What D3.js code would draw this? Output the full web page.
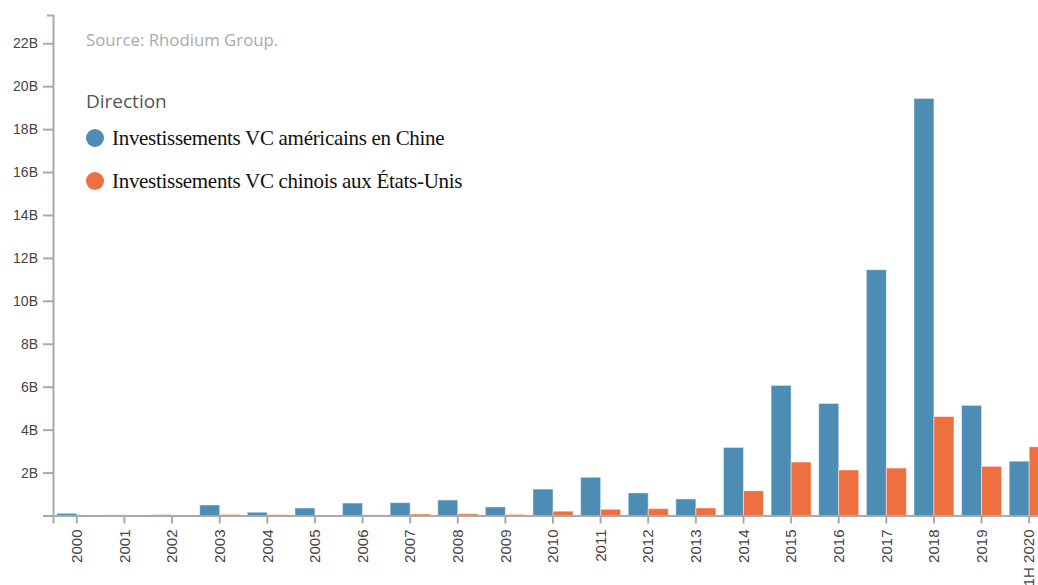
<!DOCTYPE html>
<html>
<head>
<meta charset="utf-8">
<script src="https://cdn.jsdelivr.net/npm/d3@7"></script>
<style>
  body { margin: 0; background: #fff; }
  svg { display: block; }
</style>
</head>
<body>
<div id="chart"></div>
<script>
var w = 1038,
    h = 585;

// years on the x axis
var years = ['2000', '2001', '2002', '2003', '2004', '2005', '2006', '2007', '2008', '2009',
             '2010', '2011', '2012', '2013', '2014', '2015', '2016', '2017', '2018', '2019', '1H 2020'];

// billions of dollars
var usToChina = [0.10, 0.03, 0.04, 0.49, 0.15, 0.35, 0.58, 0.60, 0.72, 0.40,
                 1.23, 1.78, 1.05, 0.77, 3.17, 6.06, 5.22, 11.45, 19.43, 5.13, 2.53];
var chinaToUs = [0.02, 0.01, 0.01, 0.05, 0.04, 0.00, 0.03, 0.07, 0.08, 0.05,
                 0.20, 0.29, 0.32, 0.35, 1.15, 2.49, 2.12, 2.21, 4.61, 2.29, 3.20];

var seriesNames = ['Investissements VC américains en Chine', 'Investissements VC chinois aux États-Unis'];
var seriesColors = ['#4e8db3', '#ee6f3f'];
var yTicks = [0, 2, 4, 6, 8, 10, 12, 14, 16, 18, 20, 22];

var rows = years.map(function(y, i) {
  return {year: y, values: [usToChina[i], chinaToUs[i]]};
});

var vis = d3.select('#chart')
            .append('svg')
            .attr('width', w)
            .attr('height', h);

var x = d3.scaleBand()
    .domain(years)
    .range([53, 1053])
    .paddingInner(0.16)
    .paddingOuter(0.08);

var x1 = d3.scaleBand()
    .domain([0, 1])
    .range([0, x.bandwidth()]);

var y = d3.scaleLinear()
    .domain([0, d3.max(usToChina) * 1.2])
    .range([515.5, 15]);

// bars
var groups = vis.selectAll('.group')
    .data(rows)
    .enter()
    .append('g')
    .attr('class', 'group')
    .attr('transform', function(d) { return 'translate(' + x(d.year) + ',0)'; });

groups.selectAll('rect')
    .data(function(d) { return d.values; })
    .enter()
    .append('rect')
    .attr('x', function(d, i) { return x1(i); })
    .attr('y', function(d) { return y(d); })
    .attr('width', x1.bandwidth())
    .attr('height', function(d) { return y(0) - y(d); })
    .attr('fill', function(d, i) { return seriesColors[i]; })
    .attr('stroke', '#fff')
    .attr('stroke-opacity', 0.45)
    .attr('stroke-width', 1);

// y axis
var yAxis = vis.append('g')
    .attr('transform', 'translate(53,0)')
    .call(d3.axisLeft(y)
      .tickValues(yTicks)
      .tickSize(10)
      .tickSizeOuter(6)
      .tickFormat(function(d) { return d === 0 ? '' : d + 'B'; }));

yAxis.selectAll('text')
    .attr('font-family', 'Liberation Sans, Arial, sans-serif')
    .attr('font-size', '14px')
    .attr('fill', '#444')
    .attr('x', -15);

// x axis
var xAxis = vis.append('g')
    .attr('transform', 'translate(0,' + y(0) + ')')
    .call(d3.axisBottom(x).tickSize(8).tickSizeOuter(8));

xAxis.selectAll('text')
    .attr('font-family', 'Liberation Sans, Arial, sans-serif')
    .attr('font-size', '15px')
    .attr('fill', '#444')
    .attr('transform', 'rotate(-90)')
    .attr('text-anchor', 'end')
    .attr('x', -14)
    .attr('y', 0)
    .attr('dy', '0.35em');

vis.selectAll('.domain, .tick line')
    .attr('stroke', '#aaa')
    .attr('stroke-width', 2);

// source + legend
vis.append('text')
    .attr('x', 86)
    .attr('y', 46)
    .attr('font-family', 'Open Sans, sans-serif')
    .attr('font-size', '16.8px')
    .attr('fill', '#aaa')
    .text('Source: Rhodium Group.');

vis.append('text')
    .attr('x', 86)
    .attr('y', 108)
    .attr('font-family', 'Open Sans, sans-serif')
    .attr('font-size', '19px')
    .attr('fill', '#555')
    .text('Direction');

var legend = vis.selectAll('.legend')
    .data(seriesNames)
    .enter()
    .append('g')
    .attr('class', 'legend')
    .attr('transform', function(d, i) { return 'translate(95,' + (138 + i * 43) + ')'; });

legend.append('circle')
    .attr('r', 9)
    .attr('fill', function(d, i) { return seriesColors[i]; });

legend.append('text')
    .attr('x', 17)
    .attr('y', 7)
    .attr('font-family', 'Liberation Serif, Times New Roman, serif')
    .attr('font-size', '21px')
    .attr('letter-spacing', '-0.3px')
    .attr('fill', '#111')
    .text(function(d) { return d; });
</script>
</body>
</html>
